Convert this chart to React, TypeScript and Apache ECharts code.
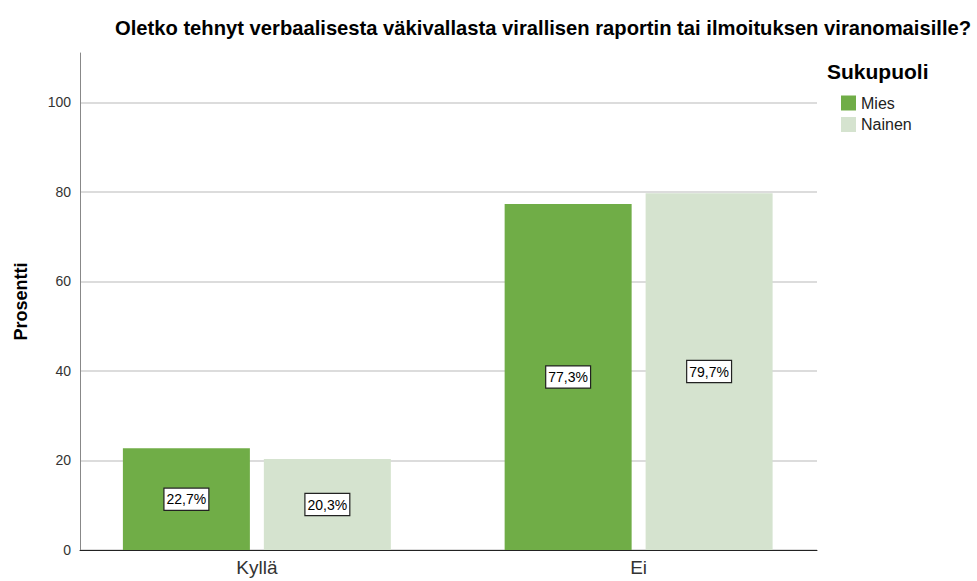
import React, { useEffect, useRef } from "react";
import * as echarts from "echarts";

const categories = ["Kyllä", "Ei"];
const seriesNames = ["Mies", "Nainen"];
const miesValues = [22.7, 77.3];
const nainenValues = [20.3, 79.7];
const yTicks = [0, 20, 40, 60, 80, 100];
const colors = ["#70ad47", "#d5e3cf"];

const FONT = "Liberation Sans, Arial, sans-serif";

export default function App() {
  const ref = useRef<HTMLDivElement>(null);
  useEffect(() => {
    if (!ref.current) return;
    const chart = echarts.init(ref.current, undefined, { renderer: "svg" });
    const label = {
      show: true,
      position: "inside",
      formatter: (p: any) => p.value.toFixed(1).replace(".", ",") + "%",
      color: "#000",
      fontFamily: FONT,
      fontSize: 14,
      backgroundColor: "#fff",
      borderColor: "#222",
      borderWidth: 1.2,
      padding: [4, 2, 3, 2],
    };
    const yCommon = {
      type: "value",
      min: 0,
      max: 111,
    };
    chart.setOption({
      animation: false,
      textStyle: { fontFamily: FONT },
      title: {
        text: "Oletko tehnyt verbaalisesta väkivallasta virallisen raportin tai ilmoituksen viranomaisille?",
        left: 538,
        textAlign: "center",
        top: 13,
        textStyle: { fontSize: 20.2, fontWeight: "bold", color: "#000", fontFamily: FONT },
      },
      legend: {
        data: seriesNames,
        orient: "vertical",
        left: 841,
        top: 95,
        itemWidth: 15,
        itemHeight: 15,
        itemGap: 5.5,
        icon: "rect",
        padding: 0,
        textStyle: { fontSize: 16, color: "#222", fontFamily: FONT },
      },
      graphic: [
        {
          type: "text",
          left: 827,
          top: 61,
          style: { text: "Sukupuoli", fontSize: 21, fontWeight: "bold", fill: "#000", fontFamily: FONT },
        },
      ],
      grid: [
        { left: 80, right: 160, top: 53, bottom: 31 },
        { left: 66, right: 147.5, top: 53, bottom: 31 },
      ],
      xAxis: [
        {
          type: "category",
          gridIndex: 0,
          data: categories,
          axisLine: { lineStyle: { color: "#222", width: 1 } },
          axisTick: { show: false },
          axisLabel: { show: false },
        },
        {
          type: "category",
          gridIndex: 1,
          data: categories,
          axisLine: { show: false },
          axisTick: { show: false },
          axisLabel: { fontSize: 19, color: "#333", margin: 8, fontFamily: FONT },
        },
      ],
      yAxis: [
        {
          ...yCommon,
          gridIndex: 0,
          name: "Prosentti",
          nameLocation: "middle",
          nameGap: 50,
          nameTextStyle: { fontSize: 18, fontWeight: "bold", color: "#000", fontFamily: FONT },
          axisLine: { show: true, lineStyle: { color: "#888" } },
          axisTick: { show: false, customValues: yTicks },
          axisLabel: { customValues: yTicks, fontSize: 14, color: "#333", margin: 9, fontFamily: FONT },
          splitLine: { show: true, lineStyle: { color: "#d0d0d0", width: 1.5 } },
        },
        {
          ...yCommon,
          gridIndex: 1,
          show: false,
          splitLine: { show: false },
        },
      ],
      series: [
        {
          name: seriesNames[0],
          type: "bar",
          xAxisIndex: 1,
          yAxisIndex: 1,
          data: miesValues,
          barWidth: 127,
          barGap: "11%",
          itemStyle: { color: colors[0] },
          label,
        },
        {
          name: seriesNames[1],
          type: "bar",
          xAxisIndex: 1,
          yAxisIndex: 1,
          data: nainenValues,
          barWidth: 127,
          barGap: "11%",
          itemStyle: { color: colors[1] },
          label,
        },
      ],
    });
    return () => chart.dispose();
  }, []);
  return <div ref={ref} style={{ width: 977, height: 581, position: "absolute", left: 0, top: 0 }} />;
}
